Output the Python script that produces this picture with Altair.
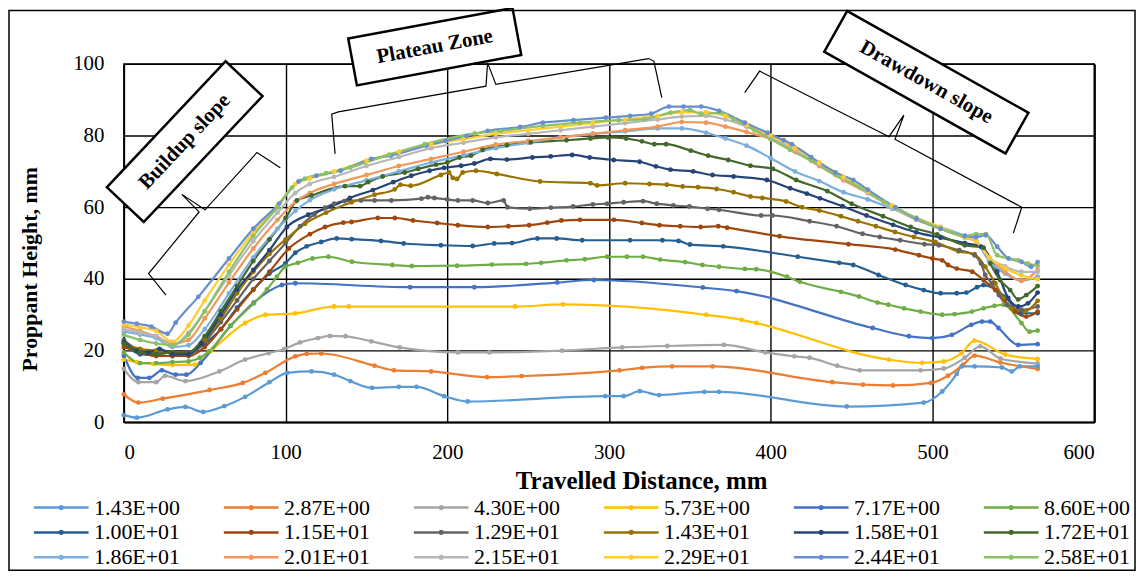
import altair as alt
import pandas as pd

# ---------------- data ----------------
names = ["1.43E+00", "2.87E+00", "4.30E+00", "5.73E+00", "7.17E+00", "8.60E+00",
         "1.00E+01", "1.15E+01", "1.29E+01", "1.43E+01", "1.58E+01", "1.72E+01",
         "1.86E+01", "2.01E+01", "2.15E+01", "2.29E+01", "2.44E+01", "2.58E+01"]
colors = ["#5B9BD5", "#ED7D31", "#A5A5A5", "#FFC000", "#4472C4", "#70AD47",
          "#255E91", "#9E480E", "#636363", "#997300", "#264478", "#43682B",
          "#7CAFDD", "#F1975A", "#B7B7B7", "#FFCD33", "#698ED0", "#8CC168"]

x01 = [0, 8, 27, 38, 49, 62, 75, 90, 101, 116, 130, 140, 153.5, 170, 181, 198, 212.6, 297.7, 309, 319, 331, 359, 368, 447, 494.6, 506, 515, 518, 526, 543, 549, 554, 565]
y01 = [2, 1.3, 3.6, 4.3, 2.9, 4.5, 7.1, 11.2, 13.8, 14.2, 13.3, 11.5, 9.6, 9.9, 9.9, 7.3, 5.8, 7.3, 7.3, 8.7, 7.6, 8.5, 8.5, 4.4, 5.5, 8.6, 13.5, 15.6, 15.6, 15.3, 14.2, 15.6, 15.6]

x02 = [0, 9, 24, 53, 73.5, 87.5, 106, 113, 122, 155, 167, 190, 224.5, 246, 306.5, 320.5, 339, 364, 438, 457, 475.6, 499, 509.6, 519, 526, 542, 565]
y02 = [7.8, 5.5, 6.6, 9, 11, 13.8, 18.4, 19.1, 19.2, 15.8, 14.5, 14.2, 12.6, 12.9, 14.5, 15.2, 15.6, 15.6, 11.2, 10.5, 10.3, 11, 13, 16.1, 18.6, 16.7, 14.9]

x03 = [0, 9, 20, 25.5, 38, 59, 75, 89.5, 99, 109, 120, 127.5, 137, 153, 170.6, 206.5, 226, 271, 308, 336, 371, 396.6, 414.6, 424, 441, 455, 492.6, 507, 520, 529.5, 542, 565]
y03 = [14.9, 11.2, 11.2, 13, 11.5, 14.2, 17.5, 19.3, 20.4, 22.3, 23.5, 24.1, 24, 22.6, 20.9, 19.5, 19.5, 20, 20.9, 21.3, 21.6, 19.5, 18.4, 18, 15.8, 14.5, 14.5, 15, 18, 21.2, 17.8, 16.4]

x04 = [0, 8, 18, 30, 44, 53.6, 75, 87.5, 106, 130, 139, 242, 271.5, 360, 382, 391, 473, 493.6, 507, 518, 526, 545, 565]
y04 = [17.5, 16.8, 16.3, 16, 16.1, 19.8, 27.7, 30, 30.4, 32.3, 32.3, 32.3, 32.9, 30, 28.6, 27.7, 17.5, 16.6, 17, 19.3, 22.8, 18.9, 17.7]

x05 = [0, 8.5, 15.7, 23.5, 32, 38.6, 47.5, 66, 80.3, 97.7, 106, 177, 216.7, 268, 290.6, 358, 378.8, 463, 485.4, 500, 512, 524, 530.6, 535.7, 540.8, 553, 565]
y05 = [18.6, 12.4, 12.4, 14.5, 13.3, 13.3, 16.6, 26.9, 33.4, 38.3, 38.8, 37.7, 37.7, 39, 39.7, 37.6, 36.6, 26.3, 24, 23.5, 24.4, 27.2, 28.1, 28.1, 26.3, 21.6, 21.8]

x06 = [0, 10, 20, 30, 40, 47, 52.6, 66, 80.3, 88.5, 94.6, 99.8, 107.6, 116.6, 126.5, 141, 166, 178, 206, 227.6, 248.7, 258, 273.7, 285, 298.8, 311, 321, 331.6, 347, 357.7, 368, 384, 391, 410, 418, 443.4, 454.6, 466, 472.7, 482.4, 492.6, 506, 513.7, 524.4, 531.6, 538.3, 543.9, 555, 560, 565]
y06 = [19.5, 16.5, 16.5, 16.8, 17, 18, 19.8, 27, 33.2, 37.1, 40.6, 43.4, 44.5, 45.7, 46.2, 44.8, 43.9, 43.6, 43.7, 44, 44.2, 44.5, 45.2, 45.5, 46.2, 46.2, 46.2, 45.4, 44.7, 43.9, 43.4, 42.8, 42.7, 40.6, 39.2, 36.4, 35.1, 33.4, 32.8, 31.8, 30.9, 30, 30.2, 30.9, 31.8, 32.5, 32.8, 27.7, 25.3, 25.6]

x07 = [0, 10, 20, 30, 40, 50, 60, 70, 80, 90, 99.8, 106, 113, 122, 131.6, 140.8, 159, 173, 196, 215.7, 229, 240, 255.7, 267.6, 283.4, 313, 333, 343, 350, 370.6, 416.7, 442.3, 451, 466.6, 483.4, 494.6, 505, 515, 521, 527.5, 531.6, 545, 555, 565]
y07 = [22, 19, 18.7, 18.5, 19, 22, 26, 32, 37, 41.5, 44.3, 47.3, 49.1, 50.3, 51.3, 51.1, 50.6, 49.9, 49.4, 49.2, 49.9, 50, 51.3, 51.3, 50.8, 50.8, 50.8, 50.6, 49.6, 49.1, 46.2, 44.5, 43.9, 41.1, 38.3, 36.9, 36, 36, 36.2, 37.7, 38.3, 35, 30.4, 30.5]

x08 = [0, 10, 20, 30, 40, 50, 60, 70, 80, 90, 102, 115, 124.4, 135.7, 140.8, 157, 167.5, 178.8, 193.7, 206.5, 225, 237.7, 250.6, 261.8, 270.5, 282, 303, 320.3, 331.2, 344, 356.6, 367.5, 373, 405.4, 448, 477, 491.6, 500, 506, 509.6, 515, 524.6, 531.6, 538.8, 544.5, 551, 558, 565]
y08 = [21, 19.5, 18.5, 18.5, 18.5, 21, 26, 31.5, 37, 42, 48.5, 52.5, 54.5, 55.7, 55.9, 57, 57, 56.3, 55.6, 55, 54.5, 54.7, 55, 55.7, 56.3, 56.5, 56.5, 55.6, 55, 54.7, 54.5, 54.7, 54.3, 51.9, 49.7, 48.2, 46.6, 45.7, 45.2, 43.9, 42.9, 42, 39.7, 36.9, 34.1, 30.9, 29.5, 30.9]

x09 = [0, 10, 20, 30, 40, 50, 60, 70, 80, 90, 100, 109, 117.8, 124.4, 130, 136.3, 146.6, 155, 165.4, 184, 188, 192, 200, 206.5, 215.7, 225, 234.8, 237.2, 251, 264, 277.8, 290, 298.8, 309, 321, 329.5, 339.8, 349.7, 361, 368, 394, 401, 424, 440.7, 456.7, 467.4, 480, 495, 503.9, 516.6, 526, 530, 532.6, 536.7, 541, 546, 555, 565]
y09 = [23, 20, 19.5, 19.5, 19, 22.5, 28, 34, 40, 45, 50, 54.7, 58, 59.9, 61, 61.7, 61.9, 61.9, 61.9, 62.4, 62.8, 62.6, 62.2, 61.9, 61.9, 61.2, 61.9, 60, 59.6, 59.9, 60.2, 60.8, 61, 61.4, 61.7, 61, 60.5, 60.2, 59.6, 59.3, 57.7, 57.7, 56.1, 54.7, 52.6, 51.7, 50.8, 49.7, 49.4, 48, 46.6, 44.3, 41.1, 38.8, 35.5, 32.8, 31.4, 32.3]

x10 = [0, 10, 20, 30, 40, 50, 60, 70, 80, 90, 100, 112, 125, 140.8, 155, 167.5, 171, 177.3, 196, 201, 203.4, 206, 209.5, 217.7, 230.6, 257.3, 288.5, 292.6, 310, 325, 335.7, 345.5, 355, 366.5, 377, 387.4, 394.8, 409.5, 419.4, 430, 443.4, 454, 465, 476.8, 488.5, 501.8, 516, 526, 532.6, 538.8, 543.9, 549, 556.8, 565]
y10 = [22, 20.5, 20, 19.5, 19.5, 23, 29, 36, 42, 47, 51, 55.4, 58.5, 61.4, 63.5, 65, 66.3, 66, 69, 69.7, 68.2, 67.9, 69.7, 70.2, 69.3, 67.2, 66.7, 66.1, 66.7, 66.5, 66.3, 65.8, 65.6, 65.1, 64.2, 63, 62.6, 61.6, 60, 59.1, 57.5, 56.1, 54.7, 53.1, 51.7, 50.3, 47.7, 46.9, 43.4, 38.8, 34.6, 31.8, 30.9, 33.9]

x11 = [0, 8, 15, 22, 30, 40, 48, 60, 70, 80, 90, 100.8, 114, 128.5, 139.8, 154, 166.5, 177.7, 189, 198, 208.5, 216.7, 226.6, 236.8, 252.6, 263.9, 277.2, 288, 302.9, 318.9, 329, 338, 352, 364, 377, 397.6, 412, 422.3, 430.5, 444.4, 459.2, 475.6, 490, 505, 520, 530, 540, 546.8, 553, 559, 565]
y11 = [22.5, 20, 19.5, 20.5, 19, 19, 22, 30, 37, 42.5, 48, 54.5, 57.9, 60.2, 62.6, 64.8, 67, 68.8, 70.2, 71, 71.6, 72.2, 73.5, 73.3, 73.9, 74.2, 74.6, 73.9, 73.2, 72.7, 71.4, 70.5, 70, 69, 68.6, 67.6, 65.3, 63.8, 62.5, 60.3, 57.7, 55.1, 53, 51.5, 50, 49, 42, 34.7, 32.3, 33.2, 36.2]

x12 = [0, 10, 20, 30, 40, 50, 60, 70, 80, 90, 100, 107, 116, 136.7, 146, 151, 160, 173.7, 182, 193, 200, 207.5, 214.6, 221.8, 236.8, 251.6, 273.7, 288.5, 299.2, 310.6, 320.3, 328, 335.3, 350.5, 361.3, 373.7, 387.4, 401.3, 415.7, 435, 450, 469.4, 486.5, 502.9, 520, 531.6, 535.7, 541.8, 548, 553, 558, 565]
y12 = [22, 19.5, 19, 19.5, 19.5, 24, 31, 38, 45, 51, 57, 61.9, 63.3, 65.9, 65.9, 67, 68.6, 69.7, 70.7, 71.9, 72.5, 73.9, 74.4, 76, 77.3, 78.1, 78.7, 79.2, 79.5, 79.2, 78.4, 77.6, 77.6, 75.8, 74.4, 73.2, 71.6, 70.7, 67.6, 64.5, 61, 57.5, 54.5, 52.4, 49.4, 48.7, 44.3, 39.7, 36.9, 34.3, 35.5, 38]

xg = [0, 10, 20, 30, 40, 50, 65, 80, 95, 106, 115, 130, 150, 170, 190, 210, 230, 250, 270, 290, 310, 330, 345, 360, 372, 385, 400, 415, 430, 445, 460, 475, 490, 505, 520, 527, 535, 545, 555, 565]
y13 = [25.3, 24.5, 23.5, 21, 21.5, 26, 36, 46, 54, 59, 62, 65, 67.5, 70, 72.5, 74.5, 76.5, 78, 79.5, 80.5, 81.2, 82, 82, 80.8, 79.2, 77.2, 73.7, 70, 67.3, 64.2, 62.2, 59.6, 57, 54.5, 52, 50.5, 45, 41.5, 39.5, 40.6]
y14 = [26.8, 25.5, 24, 22, 23, 29, 39, 48.5, 56.5, 61.5, 64, 66.5, 69, 71.5, 73.5, 75.5, 77.5, 78.5, 79.5, 80.5, 81.5, 82.5, 83.8, 83.6, 82.5, 81, 79, 75.5, 71.5, 67.5, 64, 60, 56.5, 54, 51.5, 50.5, 46, 42, 39.5, 42.5]
y15 = [26, 25, 24, 21.5, 25, 31, 41, 50.5, 58.5, 64, 66.5, 68.5, 71.5, 74, 76.5, 78, 79.5, 80.5, 81.5, 82.5, 83.5, 84.5, 85.3, 85.5, 84.5, 82.5, 79.5, 76, 72, 68, 64, 60, 56.5, 54, 51.5, 50.5, 46, 43.5, 42, 42]
y16 = [27.3, 26.5, 25.5, 22.5, 27, 34, 44, 53, 60.5, 66.5, 68, 70, 73, 75.5, 77.5, 79, 80.5, 81.5, 82.5, 83.5, 84.5, 85.5, 86.5, 86.5, 85.5, 83, 80, 76.5, 72.5, 68.5, 64.5, 60.5, 57, 54.5, 51.5, 50.5, 46, 43, 41, 39.9]

x17 = [0, 8, 17, 27, 32, 46, 65, 80, 96, 108, 119, 134, 153, 165, 187, 199, 212, 225, 245, 259, 278, 298, 313, 326, 337, 346, 357, 368, 384, 398, 408, 413, 425, 440, 451, 460, 477, 490, 505, 520, 527, 533, 540, 547, 555, 561, 565]
y17 = [28.1, 27.5, 26.7, 24.7, 27.8, 35, 45.7, 54, 61, 67.2, 68.8, 70.2, 73.5, 74.4, 77.2, 78.5, 79.9, 81.3, 82.4, 83.6, 84.3, 85, 85.5, 86.1, 88.1, 88.1, 88.1, 86.9, 83.6, 80.8, 78.7, 77.6, 74, 69.7, 67.6, 64.9, 60, 56.8, 54, 52, 51.7, 52.2, 49, 45.7, 44.8, 43.4, 44.7]

x18 = [0, 10, 20, 30, 40, 50, 65, 80, 95, 104, 112, 125, 140, 164, 186, 217, 233, 259, 282, 306, 322, 338, 350, 357, 369, 377, 390, 400, 412, 425, 440, 455, 470, 490, 505, 520, 527, 533, 540, 553, 559, 565]
y18 = [24.4, 23, 22, 21.5, 24.5, 31, 42, 52, 60, 65.5, 68, 69.5, 71.1, 74.7, 77.6, 80.6, 81.3, 82.7, 83.6, 84.3, 84.6, 86.4, 87.1, 86, 86.4, 84.6, 81.5, 79, 76, 73, 69, 65.5, 61.5, 57, 54, 52, 52.5, 52.5, 46.6, 45.2, 44.3, 43.7]

series_x = [x01, x02, x03, x04, x05, x06, x07, x08, x09, x10, x11, x12, xg, xg, xg, xg, x17, x18]
series_y = [y01, y02, y03, y04, y05, y06, y07, y08, y09, y10, y11, y12, y13, y14, y15, y16, y17, y18]

# annotation geometry (in data units)
brace_build_x = [26.0, 15.3, 46.5, 35.8, 50.2, 82.3, 96.7]
brace_build_y = [35.5, 41.5, 58.7, 63.6, 59.3, 75.3, 71.0]
brace_plat_x = [130.6, 128.5, 132.6, 223.9, 224.9, 230.0, 324.4, 327.7, 332.6]
brace_plat_y = [74.9, 86.0, 86.6, 93.8, 100.3, 94.3, 101.5, 100.8, 90.6]
brace_draw_x = [383.9, 393.1, 473.1, 482.3, 476.8, 555.2, 550.0]
brace_draw_y = [92.0, 98.0, 79.7, 85.7, 79.0, 60.0, 52.8]

box_labels = ["Buildup slope", "Plateau Zone", "Drawdown slope"]
box_x = [37.6, 192.2, 496.2]
box_y = [78.3, 104.8, 94.9]
box_angle = [313.3, 349.5, 29.3]
box_w = [174, 168, 209]
box_h = [51, 48, 47]

y_title = "Proppant Height, mm"

# ---------------- tables ----------------
rows = []
for n, xs, ys in zip(names, series_x, series_y):
    for i, (a, b) in enumerate(zip(xs, ys)):
        rows.append({"series": n, "x": a, "y": b, "i": i})
df = pd.DataFrame(rows)

brows = []
for k, (bx, by) in enumerate([(brace_build_x, brace_build_y), (brace_plat_x, brace_plat_y), (brace_draw_x, brace_draw_y)]):
    for i, (a, b) in enumerate(zip(bx, by)):
        brows.append({"brace": k, "x": a, "y": b, "i": i})
dfb = pd.DataFrame(brows)

FONT = "Liberation Serif"
W, H = 975.5, 360.3
PL, PT = 116.5, 54.7

xscale = alt.Scale(domain=[0, 600], nice=False, zero=False)
yscale = alt.Scale(domain=[0, 100], nice=False)

xax = alt.Axis(values=list(range(0, 601, 100)), title="Travelled Distance, mm",
               grid=True, ticks=False, labelPadding=19, titleX=520, titleY=59,
               titleBaseline="middle", titleFontSize=25)
yax = alt.Axis(values=list(range(0, 101, 10)), title=None,
               grid=True, ticks=False, labelPadding=20)

# legend symbol: 55px line with a small dot; symbol box is only 18px so rows stay tight
sym = "M-3,0H3M-0.15,0A0.15,0.15,0,1,1,0.15,0A0.15,0.15,0,1,1,-0.15,0"

lines = alt.Chart(df).mark_line(
    interpolate="monotone", strokeWidth=2.2,
    point=alt.OverlayMarkDef(size=24, filled=True, opacity=1)
).encode(
    x=alt.X("x:Q", scale=xscale, axis=xax),
    y=alt.Y("y:Q", scale=yscale, axis=yax),
    color=alt.Color("series:N", scale=alt.Scale(domain=names, range=colors),
                    sort=names,
                    legend=alt.Legend(title=None, orient="none", direction="horizontal",
                                      legendX=-74, legendY=435,
                                      columns=6, columnPadding=38, rowPadding=3,
                                      symbolType=sym,
                                      symbolSize=336, symbolStrokeWidth=2.6, labelOffset=22,
                                      labelFontSize=22, labelFont=FONT, labelColor="black")),
    order=alt.Order("i:Q"),
)

ytitle = alt.Chart(pd.DataFrame({"t": [y_title]})).mark_text(
    angle=270, font=FONT, fontWeight="bold", fontSize=22, color="black",
    align="center", baseline="middle").encode(
    text="t:N", x=alt.value(-94.5), y=alt.value(206.5))

braces = alt.Chart(dfb).mark_line(color="black", strokeWidth=1.2, interpolate="linear").encode(
    x=alt.X("x:Q", scale=xscale), y=alt.Y("y:Q", scale=yscale),
    detail="brace:N", order=alt.Order("i:Q"))

ann_layers = []
for lab, bx, by, ang, bw, bh in zip(box_labels, box_x, box_y, box_angle, box_w, box_h):
    a = bh / bw
    path = f"M-1,{-a:.4f}L1,{-a:.4f}L1,{a:.4f}L-1,{a:.4f}Z"
    d = pd.DataFrame({"x": [bx], "y": [by], "t": [lab]})
    box = alt.Chart(d).mark_point(shape=path, size=bw * bw, angle=ang, filled=True,
                                  fill="white", stroke="black", strokeWidth=2.5, opacity=1).encode(
        x=alt.X("x:Q", scale=xscale), y=alt.Y("y:Q", scale=yscale))
    txt = alt.Chart(d).mark_text(angle=ang, font=FONT, fontWeight="bold", fontSize=21,
                                 color="black", align="center", baseline="middle").encode(
        x=alt.X("x:Q", scale=xscale), y=alt.Y("y:Q", scale=yscale), text="t:N")
    ann_layers += [box, txt]

frame = alt.Chart(pd.DataFrame({"v": [0]})).mark_rect(
    fillOpacity=0, stroke="black", strokeWidth=1.5).encode(
    x=alt.value(-115.5), x2=alt.value(1016.5), y=alt.value(-53.7), y2=alt.value(509))

chart = alt.layer(lines, braces, *ann_layers, ytitle, frame).properties(
    width=W, height=H,
    autosize=alt.AutoSizeParams(type="none"),
    padding={"left": PL, "top": PT, "right": 42, "bottom": 155},
).configure_axis(
    labelFont=FONT, titleFont=FONT, labelFontSize=21, labelColor="black",
    titleColor="black", titleFontWeight="bold", gridColor="black", gridWidth=1.4,
    gridOpacity=1, domainColor="black", domainWidth=1.4,
).configure_view(stroke="black", strokeWidth=1.5).configure_legend(
    labelFont=FONT
)

chart.save("out.html", embed_options={"renderer": "svg", "actions": False})
